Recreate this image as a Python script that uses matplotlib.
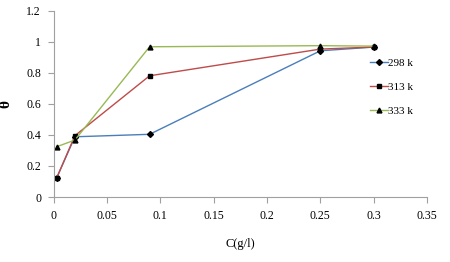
import matplotlib.pyplot as plt

plt.rcParams["font.family"] = ["Liberation Serif", "DejaVu Serif"]

conc = [0.003, 0.02, 0.09, 0.25, 0.3]
theta_298 = [0.124, 0.388, 0.404, 0.942, 0.966]
theta_313 = [0.124, 0.395, 0.781, 0.953, 0.966]
theta_333 = [0.324, 0.367, 0.968, 0.975, 0.972]
labels = ["298 k", "313 k", "333 k"]

fig = plt.figure(figsize=(4.5, 2.62), dpi=100)
ax = fig.add_axes([0.119, 0.248, 0.83, 0.711])

ax.plot(conc, theta_298, color="#4A7EBB", lw=1, marker="D", ms=3,
        mfc="black", mec="black", label=labels[0])
ax.plot(conc, theta_313, color="#BE4B48", lw=1, marker="s", ms=3,
        mfc="black", mec="black", label=labels[1])
ax.plot(conc, theta_333, color="#98B954", lw=1, marker="^", ms=3.5,
        mfc="black", mec="black", label=labels[2])

ax.set_xlim(0, 0.35)
ax.set_ylim(0, 1.2)
ax.set_xticks([0, 0.05, 0.1, 0.15, 0.2, 0.25, 0.3, 0.35])
ax.set_xticklabels(["0", "0.05", "0.1", "0.15", "0.2", "0.25", "0.3", "0.35"])
ax.set_yticks([0, 0.2, 0.4, 0.6, 0.8, 1, 1.2])
ax.set_yticklabels(["0", "0.2", "0.4", "0.6", "0.8", "1", "1.2"])

for side in ["top", "right"]:
    ax.spines[side].set_visible(False)
for side in ["left", "bottom"]:
    ax.spines[side].set_color("#a0a0a0")
    ax.spines[side].set_linewidth(0.8)
ax.tick_params(colors="#a0a0a0", labelcolor="black", labelsize=8.5,
               length=4, width=0.8, direction="out", pad=5)

ax.set_xlabel("C(g/l)", fontsize=9, labelpad=12)
ax.set_ylabel("θ", fontsize=11, fontweight="bold", labelpad=10)

ax.legend(loc="upper left", bbox_to_anchor=(0.82, 0.8), frameon=False,
          fontsize=8, handlelength=1.6, handletextpad=0.0, labelspacing=1.3)

fig.savefig("out.png", dpi=100)
